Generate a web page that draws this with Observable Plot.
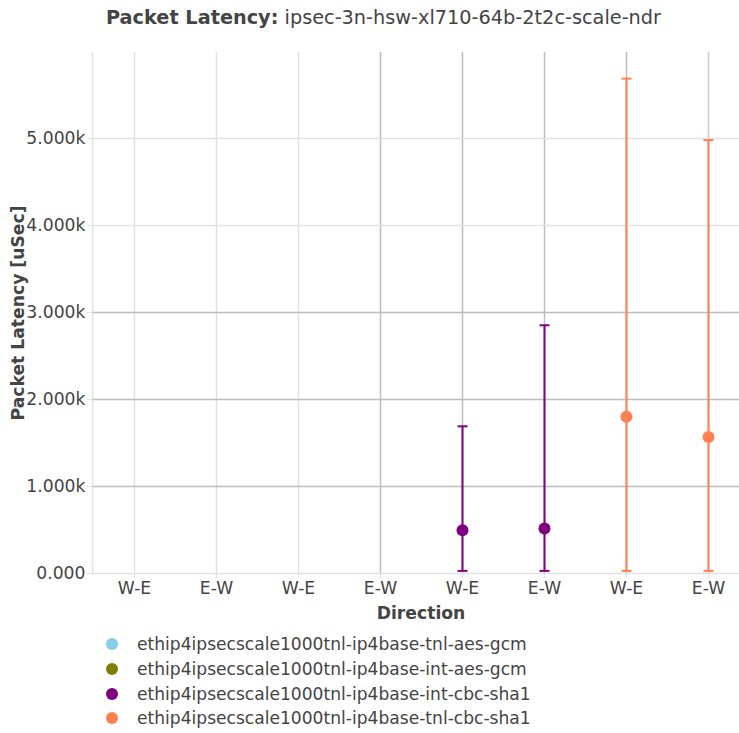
<!DOCTYPE html>
<html><head><meta charset="utf-8">
<script src="https://cdn.jsdelivr.net/npm/d3@7"></script>
<script src="https://cdn.jsdelivr.net/npm/@observablehq/plot@0.6"></script>
<style>
body{margin:0;background:#fff;overflow:hidden;font-family:"DejaVu Sans",sans-serif;color:#444}
#wrap{position:relative;width:739px;height:733px;overflow:hidden}
#chart{position:absolute;left:0;top:0;width:760px}
#chart svg{max-width:none !important}
#title{position:absolute;top:6px;left:0;width:767px;text-align:center;font-size:19.3px;white-space:nowrap}
#legend{position:absolute;left:106px;top:632px;font-size:17.1px}
.row{height:24.7px;display:flex;align-items:center;white-space:nowrap}
.sw{width:12px;height:12px;border-radius:50%;display:inline-block;margin-right:19px}
g[aria-label="y-axis label"] text, g[aria-label="x-axis label"] text{font-weight:bold}
</style></head>
<body><div id="wrap">
<div id="chart"></div>
<div id="title"><b>Packet Latency:</b> ipsec-3n-hsw-xl710-64b-2t2c-scale-ndr</div>
<div id="legend"></div>
</div>
<script>
// ---- data ----
const directions = ["W-E","E-W","W-E","E-W","W-E","E-W","W-E","E-W"];
const seriesNames = [
  "ethip4ipsecscale1000tnl-ip4base-tnl-aes-gcm",
  "ethip4ipsecscale1000tnl-ip4base-int-aes-gcm",
  "ethip4ipsecscale1000tnl-ip4base-int-cbc-sha1",
  "ethip4ipsecscale1000tnl-ip4base-tnl-cbc-sha1"
];
const seriesColors = ["#87CEEB","#808000","#800080","#FF7F50"];
// per-series x index positions and values (avg, min, max) in uSec
const seriesX   = [[0,1],[2,3],[4,5],[6,7]];
const seriesAvg = [[],[],[498,518],[1803,1569]];
const seriesMin = [[],[],[30,30],[30,30]];
const seriesMax = [[],[],[1692,2854],[5690,4983]];
const yTicks = [0,1000,2000,3000,4000,5000];

// ---- styles ----
const xGridColors = ["#e2e2e2","#e2e2e2","#e2e2e2","#bdbdbd","#bdbdbd","#bdbdbd","#bdbdbd","#cacaca"];
const yGridColors = ["#e2e2e2","#bdbdbd","#bdbdbd","#bdbdbd","#e2e2e2","#e2e2e2"];

const points = [];
seriesNames.forEach((name, s) => {
  seriesAvg[s].forEach((v, i) => {
    points.push({series: name, color: seriesColors[s], x: seriesX[s][i], avg: v, min: seriesMin[s][i], max: seriesMax[s][i]});
  });
});

const capSymbol = {draw(ctx){ ctx.moveTo(-5,0); ctx.lineTo(5,0); }};

const plot = Plot.plot({
  width: 760, height: 630,
  marginLeft: 92, marginRight: 11, marginTop: 52, marginBottom: 57,
  style: {fontFamily: "DejaVu Sans", fontSize: "17.2px", color: "#444", background: "transparent", maxWidth: "none"},
  x: {type: "point", domain: d3.range(8), padding: 0.5},
  y: {domain: [0, 5990]},
  marks: [
    Plot.ruleX(d3.range(8), {x: d => d, stroke: (d, i) => xGridColors[i], strokeWidth: 1.5}),
    Plot.ruleY(yTicks, {y: d => d, stroke: (d, i) => yGridColors[i], strokeWidth: 1.5}),
    Plot.frame({anchor: "left", stroke: "#e2e2e2", strokeWidth: 1.5}),
    Plot.axisY({ticks: yTicks, tickSize: 5, tickPadding: 2, stroke: "#e2e2e2",
      tickFormat: d => d === 0 ? "0.000" : (d/1000).toFixed(3) + "k",
      label: "Packet Latency [uSec]", labelAnchor: "center", labelArrow: "none", labelOffset: 81}),
    Plot.axisX({ticks: d3.range(8), tickSize: 5, tickPadding: 3, stroke: "#e2e2e2",
      tickFormat: i => directions[i],
      label: "Direction", labelAnchor: "center", labelArrow: "none", labelOffset: 45}),
    Plot.ruleX(points, {x: "x", y1: "min", y2: "max", stroke: "color", strokeWidth: 2}),
    Plot.dot(points, {x: "x", y: "max", symbol: capSymbol, stroke: "color", strokeWidth: 2, r: 5}),
    Plot.dot(points, {x: "x", y: "min", symbol: capSymbol, stroke: "color", strokeWidth: 2, r: 5}),
    Plot.dot(points, {x: "x", y: "avg", fill: "color", r: 6})
  ]
});
document.getElementById("chart").appendChild(plot);

const legend = document.getElementById("legend");
seriesNames.forEach((name, s) => {
  const row = document.createElement("div");
  row.className = "row";
  const sw = document.createElement("span");
  sw.className = "sw"; sw.style.background = seriesColors[s];
  row.appendChild(sw);
  row.appendChild(document.createTextNode(name));
  legend.appendChild(row);
});
</script>
</body></html>
